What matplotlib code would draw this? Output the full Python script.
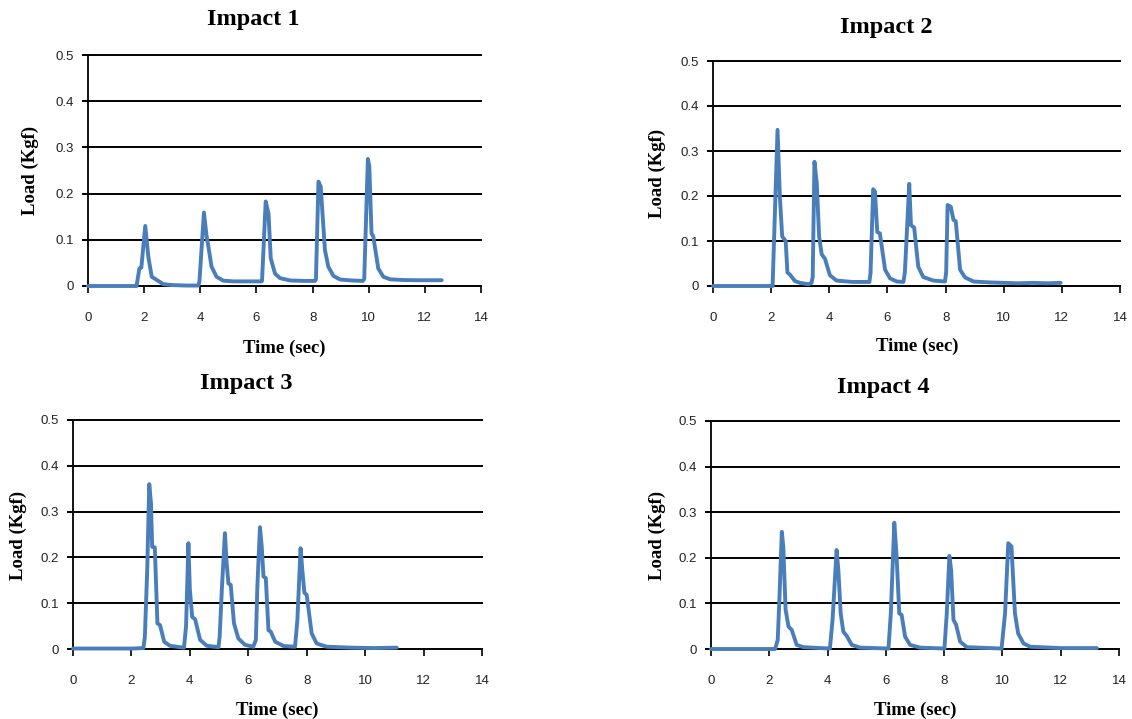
import numpy as np
import matplotlib
matplotlib.use('Agg')
import matplotlib.pyplot as plt

# Impact 1
t1 = [0, 0.5, 1.0, 1.5, 1.73, 1.83, 1.9, 2.04, 2.15, 2.27, 2.45, 2.68, 3.0, 3.5, 3.93,
      3.97, 4.13, 4.22, 4.29, 4.4, 4.58, 4.82, 5.2, 5.8, 6.19,
      6.2, 6.33, 6.43, 6.51, 6.66, 6.84, 7.2, 7.7, 8.09,
      8.12, 8.21, 8.29, 8.44, 8.56, 8.74, 8.98, 9.4, 9.79,
      9.84, 9.97, 10.02, 10.1, 10.16, 10.34, 10.52, 10.76, 11.2, 11.8, 12.6]
v1 = [0, 0, 0, 0, 0, 0.038, 0.04, 0.13, 0.063, 0.02, 0.013, 0.004, 0.002, 0.001, 0.001,
      0.01, 0.159, 0.11, 0.085, 0.042, 0.02, 0.0115, 0.01, 0.01, 0.01,
      0.012, 0.183, 0.157, 0.06, 0.027, 0.017, 0.012, 0.011, 0.011,
      0.015, 0.226, 0.215, 0.078, 0.042, 0.022, 0.014, 0.012, 0.011,
      0.015, 0.275, 0.26, 0.114, 0.108, 0.038, 0.02, 0.0145, 0.013, 0.0125, 0.0125]

# Impact 2
t2 = [0, 1.0, 2.05, 2.22, 2.3, 2.38, 2.5, 2.56, 2.65, 2.82, 2.99, 3.28, 3.39,
      3.43, 3.49, 3.57, 3.65, 3.74, 3.85, 4.02, 4.25, 4.8, 5.38,
      5.42, 5.51, 5.57, 5.65, 5.74, 5.92, 6.09, 6.32, 6.55,
      6.6, 6.75, 6.81, 6.92, 7.06, 7.23, 7.58, 7.98,
      8.02, 8.07, 8.18, 8.27, 8.35, 8.5, 8.67, 8.96, 9.5, 10.0, 10.5, 11.0, 11.5, 11.96]
v2 = [0, 0, 0, 0.347, 0.198, 0.11, 0.1, 0.03, 0.025, 0.011, 0.007, 0.004, 0.007,
      0.02, 0.276, 0.228, 0.11, 0.07, 0.061, 0.024, 0.012, 0.009, 0.009,
      0.03, 0.215, 0.21, 0.12, 0.117, 0.036, 0.017, 0.01, 0.009,
      0.03, 0.227, 0.135, 0.13, 0.043, 0.02, 0.012, 0.01,
      0.03, 0.18, 0.176, 0.147, 0.144, 0.036, 0.019, 0.01, 0.008, 0.007, 0.006, 0.007, 0.006, 0.007]

# Impact 3
t3 = [0, 1.0, 2.0, 2.41, 2.46, 2.54, 2.61, 2.67, 2.71, 2.8, 2.89, 2.98, 3.12, 3.32, 3.66, 3.8,
      3.87, 3.95, 4.0, 4.08, 4.18, 4.35, 4.58, 4.98,
      5.02, 5.1, 5.2, 5.26, 5.32, 5.4, 5.51, 5.66, 5.89, 6.17,
      6.26, 6.31, 6.4, 6.46, 6.52, 6.6, 6.69, 6.77, 6.92, 7.2, 7.6,
      7.68, 7.79, 7.85, 7.92, 8.0, 8.17, 8.34, 8.68, 9.5, 10.3, 11.08]
v3 = [0.001, 0.001, 0.001, 0.002, 0.027, 0.172, 0.36, 0.318, 0.223, 0.222, 0.056, 0.052, 0.016, 0.007, 0.004, 0.003,
      0.05, 0.231, 0.13, 0.07, 0.065, 0.02, 0.007, 0.004,
      0.027, 0.136, 0.253, 0.187, 0.143, 0.14, 0.056, 0.023, 0.009, 0.005,
      0.02, 0.136, 0.266, 0.224, 0.158, 0.155, 0.041, 0.038, 0.016, 0.0066, 0.005,
      0.063, 0.22, 0.172, 0.123, 0.118, 0.034, 0.012, 0.005, 0.003, 0.002, 0.003]

# Impact 4
t4 = [0, 1.0, 2.2, 2.29, 2.35, 2.43, 2.48, 2.56, 2.66, 2.77, 2.94, 3.17, 4.08,
      4.17, 4.31, 4.37, 4.45, 4.54, 4.66, 4.83, 5.12, 6.09,
      6.17, 6.29, 6.37, 6.46, 6.54, 6.66, 6.83, 7.18, 8.01,
      8.09, 8.18, 8.24, 8.32, 8.41, 8.55, 8.78, 9.97,
      10.09, 10.2, 10.31, 10.43, 10.54, 10.72, 10.95, 12.0, 13.24]
v4 = [0, 0, 0, 0.02, 0.115, 0.257, 0.225, 0.086, 0.049, 0.042, 0.009, 0.004, 0.001,
      0.063, 0.217, 0.173, 0.078, 0.038, 0.0285, 0.009, 0.003, 0.001,
      0.078, 0.277, 0.202, 0.078, 0.075, 0.027, 0.009, 0.003, 0.001,
      0.078, 0.204, 0.173, 0.064, 0.053, 0.016, 0.004, 0.001,
      0.078, 0.232, 0.225, 0.078, 0.034, 0.0124, 0.005, 0.002, 0.002]

series = [(t1, v1), (t2, v2), (t3, v3), (t4, v4)]
titles = ['Impact 1', 'Impact 2', 'Impact 3', 'Impact 4']
xticks = [0, 2, 4, 6, 8, 10, 12, 14]
yticks = [0, 0.1, 0.2, 0.3, 0.4, 0.5]
yticklabels = ['0', '0.1', '0.2', '0.3', '0.4', '0.5']

W, H = 1132, 719
# axes boxes in pixels: left, right, bottom(y of 0), top(y of 0.5)
boxes = [(88, 481, 286, 55), (713, 1120, 286, 61), (73, 482, 649, 420), (711, 1119, 649, 421)]
title_pos = [(253, 20), (886, 28), (246, 384), (883, 388)]
ylab_pos = [(30, 170), (657, 173), (18, 535), (657, 535)]
xlab_pos = [(284, 348), (917, 346), (277, 710), (915, 710)]

fig = plt.figure(figsize=(W / 100, H / 100), dpi=100)
serif = 'Liberation Serif'
sans = 'Liberation Sans'

for i, (t, v) in enumerate(series):
    l, r, b, tp = boxes[i]
    ax = fig.add_axes([l / W, 1 - b / H, (r - l) / W, (b - tp) / H])
    ax.plot(t, v, color='#4a7ebb', lw=2.8, solid_joinstyle='round', solid_capstyle='round',
            zorder=3, clip_on=False)
    ax.set_xlim(0, 14)
    ax.set_ylim(0, 0.5)
    ax.set_xticks(xticks)
    ax.set_yticks(yticks)
    ax.set_yticklabels(yticklabels)
    for y in yticks[1:]:
        ax.axhline(y, color='black', lw=1.4, zorder=1, clip_on=False)
    for s in ['top', 'right']:
        ax.spines[s].set_visible(False)
    ax.spines['left'].set_linewidth(1.3)
    ax.spines['bottom'].set_linewidth(1.4)
    ax.tick_params(axis='x', direction='out', length=5, width=1.2, pad=14, labelsize=9.5,
                   labelcolor='#222222')
    ax.tick_params(axis='y', direction='out', length=4, width=1.4, pad=6, labelsize=9.5,
                   labelcolor='#222222')
    for lab in ax.get_xticklabels() + ax.get_yticklabels():
        lab.set_family(sans)

    fig.text(title_pos[i][0] / W, 1 - title_pos[i][1] / H, titles[i], ha='center', va='center',
             family=serif, fontweight='bold', fontsize=17.5)
    fig.text(ylab_pos[i][0] / W, 1 - ylab_pos[i][1] / H, 'Load (Kgf)', ha='center', va='center',
             rotation=90, family=serif, fontweight='bold', fontsize=13.5)
    fig.text(xlab_pos[i][0] / W, 1 - xlab_pos[i][1] / H, 'Time (sec)', ha='center', va='center',
             family=serif, fontweight='bold', fontsize=13.5)

fig.savefig('out.png', dpi=100)
